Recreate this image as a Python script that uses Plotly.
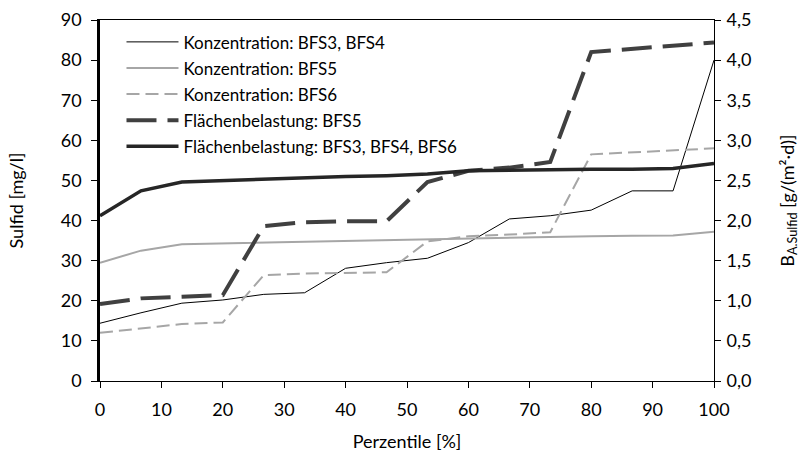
import plotly.graph_objects as go

# Percentile positions (x axis)
perzentile = [0, 6.67, 13.33, 20, 26.67, 33.33, 40, 46.67, 53.33, 60,
              66.67, 73.33, 80, 86.67, 93.33, 100]

# Sulfide concentration [mg/l] (left axis)
konz_bfs34 = [14.4, 17.0, 19.4, 20.2, 21.6, 22.0, 28.1, 29.5, 30.6, 34.5,
              40.4, 41.2, 42.6, 47.4, 47.4, 80.0]
konz_bfs5 = [29.5, 32.5, 34.1, 34.3, 34.5, 34.7, 34.9, 35.1, 35.3, 35.6,
             35.8, 36.0, 36.1, 36.2, 36.3, 37.2]
konz_bfs6 = [12.0, 13.1, 14.2, 14.6, 26.4, 26.8, 27.0, 27.1, 34.8, 36.1,
             36.5, 37.1, 56.5, 57.0, 57.5, 58.0]

# Area load B_A,Sulfid [g/(m²·d)] (right axis)
fl_bfs5 = [0.96, 1.03, 1.05, 1.07, 1.93, 1.98, 1.99, 1.99, 2.48, 2.62,
           2.66, 2.73, 4.10, 4.14, 4.19, 4.22]
fl_bfs346 = [2.06, 2.37, 2.48, 2.50, 2.52, 2.53, 2.55, 2.56, 2.58, 2.62,
             2.63, 2.63, 2.64, 2.64, 2.65, 2.71]

left_ticks = [0, 10, 20, 30, 40, 50, 60, 70, 80, 90]
right_ticks = [0, 0.5, 1.0, 1.5, 2.0, 2.5, 3.0, 3.5, 4.0, 4.5]
x_ticks = [0, 10, 20, 30, 40, 50, 60, 70, 80, 90, 100]

FONT = "Lato"
fig = go.Figure()

fig.add_trace(go.Scatter(x=perzentile, y=konz_bfs34, mode="lines",
                         name="Konzentration: BFS3, BFS4", legendgroup="g1",
                         line=dict(color="#000000", width=1)))
fig.add_trace(go.Scatter(x=perzentile, y=konz_bfs5, mode="lines",
                         name="Konzentration: BFS5", legendgroup="g2",
                         line=dict(color="#A6A6A6", width=2)))
fig.add_trace(go.Scatter(x=perzentile, y=konz_bfs6, mode="lines",
                         name="Konzentration: BFS6", legendgroup="g3",
                         line=dict(color="#A6A6A6", width=2, dash="13px,6px")))
fig.add_trace(go.Scatter(x=perzentile, y=fl_bfs5, mode="lines", yaxis="y2",
                         name="Flächenbelastung: BFS5", legendgroup="g4",
                         line=dict(color="#404040", width=4, dash="30px,11px")))
fig.add_trace(go.Scatter(x=perzentile, y=fl_bfs346, mode="lines", yaxis="y2",
                         name="Flächenbelastung: BFS3, BFS4, BFS6", legendgroup="g5",
                         line=dict(color="#262626", width=3.5)))

fig.update_layout(
    width=803, height=452,
    margin=dict(l=100, r=89, t=20, b=71),
    paper_bgcolor="white", plot_bgcolor="white",
    separators=",.",
    font=dict(family=FONT, size=18, color="#000000"),
    showlegend=True,
    legend=dict(x=0.035, y=0.988, xanchor="left", yanchor="top",
                bgcolor="rgba(0,0,0,0)", itemwidth=52,
                traceorder="grouped", tracegroupgap=1,
                font=dict(family=FONT, size=17)),
    xaxis=dict(range=[0, 100], tickvals=x_ticks, showgrid=False, zeroline=False,
               showline=True, linecolor="#000000", linewidth=1, mirror=True,
               ticks="outside", ticklen=6, tickcolor="#000000",
               ticklabelstandoff=6, automargin=False,
               title=dict(text="Perzentile [%]", standoff=17,
                          font=dict(family=FONT, size=18))),
    yaxis=dict(range=[0, 90], tickvals=left_ticks, showgrid=False, zeroline=False,
               showline=True, linecolor="#000000", linewidth=2.5,
               ticks="outside", ticklen=6, tickcolor="#000000",
               ticklabelstandoff=6, automargin=False,
               title=dict(text="Sulfid [mg/l]", standoff=33,
                          font=dict(family=FONT, size=18))),
    yaxis2=dict(range=[0, 4.5], tickvals=right_ticks, tickformat=".1f",
                overlaying="y", side="right", showgrid=False, zeroline=False,
                showline=True, linecolor="#000000", linewidth=1,
                ticks="outside", ticklen=6, tickcolor="#000000",
                ticklabelstandoff=2, automargin=False,
                title=dict(text="B<sub>A.Sulfid</sub> [g/(m²·d)]", standoff=30,
                           font=dict(family=FONT, size=18))),
)

fig.write_html("out.html")
